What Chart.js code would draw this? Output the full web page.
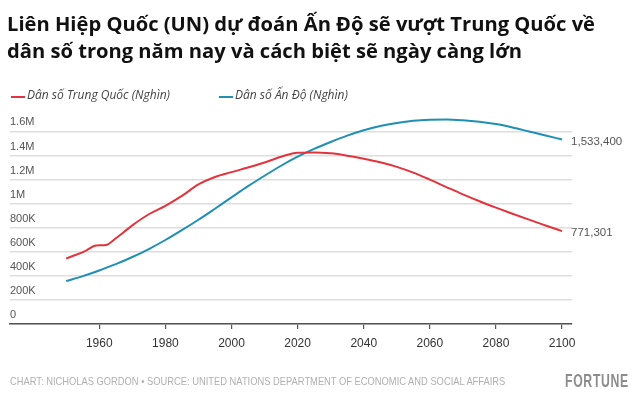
<!DOCTYPE html>
<html><head><meta charset="utf-8">
<script src="https://cdn.jsdelivr.net/npm/chart.js@4.4.0/dist/chart.umd.min.js"></script>
<style>
html,body{margin:0;padding:0;background:#fff;width:640px;height:401px;overflow:hidden;position:relative;}
#c{position:absolute;left:0;top:0;}
.t{position:absolute;left:7px;font-family:"Open Sans",sans-serif;font-weight:700;font-size:20px;color:#111;white-space:nowrap;transform-origin:0 0;line-height:1;}
#foot{position:absolute;left:10px;top:375px;font-family:"Liberation Sans",Arial,sans-serif;font-size:10.5px;color:#b0b0b0;white-space:nowrap;transform-origin:0 0;transform:scaleX(0.89);}
#brand{position:absolute;left:565px;top:371px;font-family:"Liberation Sans",Arial,sans-serif;font-weight:700;font-size:18px;color:#8c8c8c;white-space:nowrap;transform-origin:0 0;transform:scaleX(0.68);letter-spacing:1px;}
</style></head><body>
<canvas id="c" width="640" height="401"></canvas>
<div class="t" id="t1" style="top:14px">Liên Hiệp Quốc (UN) dự đoán Ấn Độ sẽ vượt Trung Quốc về</div>
<div class="t" id="t2" style="top:41px">dân số trong năm nay và cách biệt sẽ ngày càng lớn</div>
<div id="foot">CHART: NICHOLAS GORDON • SOURCE: UNITED NATIONS DEPARTMENT OF ECONOMIC AND SOCIAL AFFAIRS</div>
<div id="brand">FORTUNE</div>
<script>
// ---- data (thousands of people) ----
const chinaYears = [1950,1953,1956,1959,1962,1965,1970,1975,1980,1985,1990,1995,2000,2005,2010,2015,2020,2025,2030,2035,2040,2045,2050,2055,2060,2065,2070,2075,2080,2085,2090,2095,2100];
const chinaPop   = [544000,575000,610000,652000,656000,712000,820000,912000,982000,1064000,1160000,1222000,1262000,1300000,1342000,1390000,1424000,1426000,1418000,1399000,1374000,1344000,1306000,1258000,1200000,1138000,1077000,1020000,967000,916000,867000,819000,771301];
const indiaYears = [1950,1955,1960,1965,1970,1975,1980,1985,1990,1995,2000,2005,2010,2015,2020,2025,2030,2035,2040,2045,2050,2055,2060,2065,2070,2075,2080,2085,2090,2095,2100];
const indiaPop   = [357000,398000,445000,497000,557000,623000,698000,780000,866000,958000,1052000,1145000,1232000,1315000,1390000,1455000,1512000,1565000,1610000,1645000,1670000,1688000,1697000,1700000,1693000,1680000,1661000,1633000,1600000,1567000,1533400];
const seriesLabels = ["Dân số Trung Quốc (Nghìn)", "Dân số Ấn Độ (Nghìn)"];
const xTickYears = [1960,1980,2000,2020,2040,2060,2080,2100];
const yTickValues = [0,200000,400000,600000,800000,1000000,1200000,1400000,1600000];
const yTickLabels = ["0","200K","400K","600K","800K","1M","1.2M","1.4M","1.6M"];

const RED = "#e3343d", BLUE = "#1f8fb3";

// fit title width
(function(){
  const c = document.createElement('canvas').getContext('2d');
  c.font = '700 20px "Open Sans"';
  const w = c.measureText(document.getElementById('t1').textContent).width;
  const s = 588 / w;
  ['t1','t2'].forEach(id=>document.getElementById(id).style.transform='scaleX('+s+')');
})();

const legendPlugin = {
  id:'customLegend',
  afterDraw(chart){
    const ctx = chart.ctx;
    const xs = [11, 219];
    const y = 96;
    ctx.save();
    chart.data.datasets.forEach((ds,i)=>{
      ctx.strokeStyle = ds.borderColor; ctx.lineWidth = 2;
      ctx.beginPath(); ctx.moveTo(xs[i], y+1); ctx.lineTo(xs[i]+14, y+1); ctx.stroke();
      ctx.fillStyle = "#444";
      ctx.font = 'italic 12px "Open Sans"';
      ctx.textBaseline = 'middle'; ctx.textAlign='left';
      ctx.fillText(ds.label, xs[i]+16, y);
    });
    ctx.restore();
  }
};
const endLabelPlugin = {
  id:'endLabels',
  afterDatasetsDraw(chart){
    const ctx = chart.ctx;
    ctx.save();
    ctx.font = '11.5px "Liberation Sans", Arial';
    ctx.fillStyle = "#555";
    ctx.textBaseline='middle'; ctx.textAlign='left';
    chart.data.datasets.forEach((ds,i)=>{
      const meta = chart.getDatasetMeta(i);
      const pt = meta.data[meta.data.length-1];
      const v = ds.data[ds.data.length-1].y;
      ctx.fillText(v.toLocaleString('en-US'), pt.x + 9, pt.y + 2);
    });
    ctx.restore();
  }
};

new Chart(document.getElementById('c'), {
  type:'line',
  data:{
    datasets:[
      {label:seriesLabels[0], data:chinaYears.map((x,i)=>({x, y:chinaPop[i]})), borderColor:RED, borderWidth:2, pointRadius:0, cubicInterpolationMode:'monotone', fill:false},
      {label:seriesLabels[1], data:indiaYears.map((x,i)=>({x, y:indiaPop[i]})), borderColor:BLUE, borderWidth:2, pointRadius:0, cubicInterpolationMode:'monotone', fill:false}
    ]
  },
  options:{
    responsive:false, animation:false, devicePixelRatio:1,
    layout:{padding:{left:10, right:68, top:113.4, bottom:43.6}},
    plugins:{legend:{display:false}, tooltip:{enabled:false}},
    scales:{
      x:{
        type:'linear', min:1933, max:2103,
        afterBuildTicks(s){ s.ticks = xTickYears.map(v=>({value:v})); },
        grid:{drawOnChartArea:false, drawTicks:true, tickLength:5, color:"#555", lineWidth:1.2},
        border:{display:true, color:"#555", width:1.5},
        ticks:{padding:7, color:"#333", font:{family:'"Liberation Sans", Arial', size:12}, callback:v=>String(v), maxRotation:0, autoSkip:false}
      },
      y:{
        type:'linear', min:0, max:1750000,
        afterBuildTicks(s){ s.ticks = yTickValues.map(v=>({value:v})); },
        grid:{drawTicks:false, color:"#dedede", lineWidth:1.5},
        border:{display:false},
        ticks:{mirror:true, padding:0, labelOffset:-9, color:"#555", font:{family:'"Liberation Sans", Arial', size:11},
          callback:(v)=>{ const i=yTickValues.indexOf(v); return i<0?'':yTickLabels[i]; }}
      }
    }
  },
  plugins:[legendPlugin, endLabelPlugin]
});
</script>
</body></html>
